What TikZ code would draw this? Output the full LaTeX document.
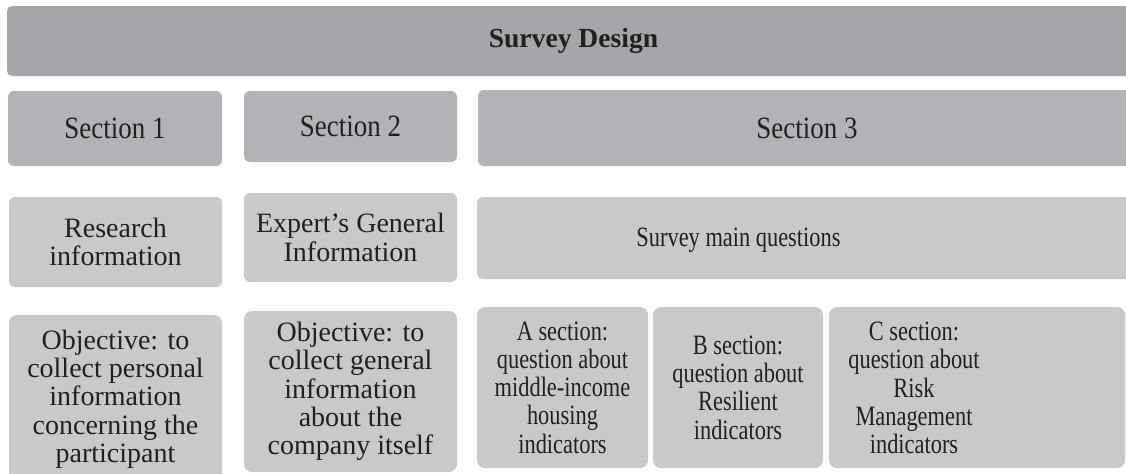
\documentclass[tikz,border=0pt]{standalone}
\usepackage{fontspec}
\setmainfont{Liberation Serif}
\newfontfamily\sectfont{Liberation Serif}[FakeStretch=0.87]
\newfontfamily\narrowfont{Liberation Serif}[FakeStretch=0.8]

\definecolor{bardark}{RGB}{165,166,170}
\definecolor{barmid}{RGB}{178,179,182}
\definecolor{barlight}{RGB}{200,201,203}
\definecolor{ink}{RGB}{35,31,32}

\tikzset{
  cell/.style={rounded corners=3pt, inner sep=0pt, align=center, text=ink},
  topcell/.style={cell, rounded corners=2.5pt, fill=bardark, font=\bfseries\fontsize{13.8}{15}\selectfont},
  sectcell/.style={cell, fill=barmid, font=\sectfont\fontsize{15.5}{17}\selectfont},
  infocell/.style={cell, fill=barlight, font=\fontsize{14}{14.15}\selectfont},
  narrowcell/.style={infocell, rounded corners=4pt, font=\narrowfont\fontsize{14}{14.15}\selectfont},
  plaintext/.style={inner sep=0pt, align=center, text=ink, font=\narrowfont\fontsize{14}{14.15}\selectfont},
}

\begin{document}
\begin{tikzpicture}[x=0.5pt, y=-0.5pt]

\useasboundingbox (0,0) rectangle (1126,473);
\clip (0,0) rectangle (1126,473);

% TITLE BAR
\node[topcell, minimum width=566.5pt, minimum height=35pt] (design) at (573.5,41) {Survey Design};

% ROW 1: sections
\node[sectcell, minimum width=107pt, minimum height=37.5pt] (sec1) at (115,128.5) {Section 1};
\node[sectcell, minimum width=106.5pt, minimum height=35.5pt] (sec2) at (350.5,126.5) {Section 2};
\node[sectcell, minimum width=329pt, minimum height=38pt] (sec3) at (807,128) {Section 3};

% ROW 2: what each section asks
\node[infocell, minimum width=106.5pt, minimum height=45pt] (resinfo) at (115.5,242) {Research\\information};
\node[infocell, minimum width=106.5pt, minimum height=44.5pt] (expinfo) at (350.5,237.5) {Expert's General\\Information};
\node[infocell, minimum width=329.5pt, minimum height=41pt] (mainq) at (806.5,238) {};
\node[plaintext] (mainqtext) at (738.5,240) {Survey main questions};

% ROW 3: objectives and question groups
\node[infocell, rounded corners=4pt, minimum width=106.5pt, minimum height=84pt] (obj1) at (115.5,399)
  {Objective: to\\collect personal\\information\\concerning the\\participant};
\node[infocell, rounded corners=4pt, minimum width=106.5pt, minimum height=80.5pt] (obj2) at (350.5,391.5)
  {Objective: to\\collect general\\information\\about the\\company itself};

\node[narrowcell, minimum width=85.5pt, minimum height=80.5pt] (asect) at (562.5,387.5)
  {A section:\\question about\\middle-income\\housing\\indicators};
\node[narrowcell, minimum width=85pt, minimum height=80.5pt] (bsect) at (738,387.5)
  {B section:\\question about\\Resilient\\indicators};
\node[narrowcell, minimum width=148pt, minimum height=80.5pt] (csect) at (977,387.5) {};
\node[plaintext] (csecttext) at (914,388)
  {C section:\\question about\\Risk\\Management\\indicators};

\end{tikzpicture}
\end{document}
